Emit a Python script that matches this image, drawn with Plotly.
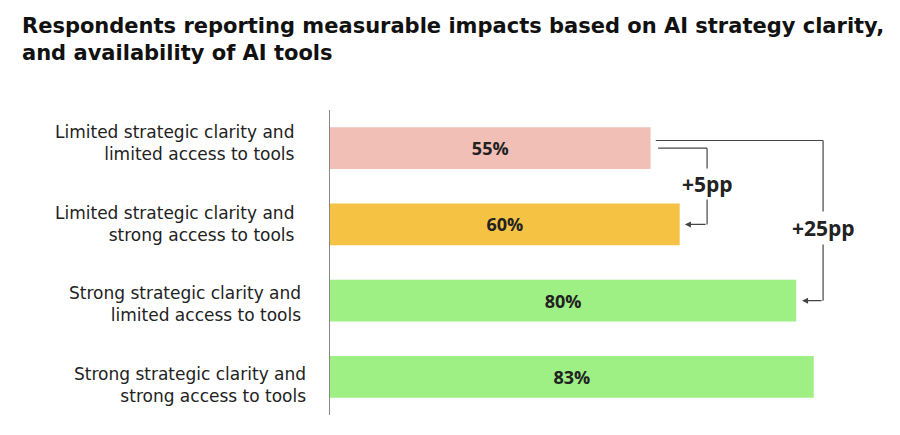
import plotly.graph_objects as go

categories = [
    "Limited strategic clarity and<br>limited access to tools",
    "Limited strategic clarity and<br>strong access to tools",
    "Strong strategic clarity and<br>limited access to tools",
    "Strong strategic clarity and<br>strong access to tools",
]
values = [55, 60, 80, 83]
bar_labels = ["55%", "60%", "80%", "83%"]
colors = ["#F1BFB6", "#F5C244", "#9EF084", "#9EF084"]
title = "Respondents reporting measurable impacts based on AI strategy clarity,<br>and availability of AI tools"
diff_labels = ["+5pp", "+25pp"]

L, R, T, B = 330, 0, 110, 20
W, H = 900, 435
PW, PH = W - L - R, H - T - B

fig = go.Figure()
fig.add_trace(go.Bar(
    y=list(range(len(categories))), x=values, orientation="h",
    marker=dict(color=colors, line=dict(width=0)),
    width=0.55,
    text=bar_labels, textposition="inside", insidetextanchor="middle",
    textfont=dict(family="Open Sans", size=18, color="#222222", weight="bold"),
    hoverinfo="skip",
))

# category labels (slightly irregular placement as in the original layout)
label_dy = [-0.07, 0.0, 0.05, 0.11]
label_right_px = [297, 297, 303, 308]
for i, cat in enumerate(categories):
    fig.add_annotation(x=(label_right_px[i] - L) / PW, y=i + label_dy[i],
                       xref="paper", yref="y", xanchor="right", yanchor="middle",
                       align="right", showarrow=False, text=cat,
                       font=dict(family="DejaVu Sans", size=17, color="#222222"))

line_col = "#444444"
# +5pp connector: bar 0 -> bar 1
s5 = values[0] + 1.3
v5 = values[1] + 4.7
t5 = values[1] + 0.9
# +25pp connector: bar 0 -> bar 2
s25 = values[0] + 0.9
v25 = values[2] + 4.6
t25 = values[2] + 1.0

shapes = [
    dict(type="line", xref="x", yref="y", x0=s5, x1=v5, y0=0, y1=0),
    dict(type="line", xref="x", yref="y", x0=v5, x1=v5, y0=0, y1=1),
    dict(type="line", xref="x", yref="y", x0=s25, x1=v25, y0=-0.1, y1=-0.1),
    dict(type="line", xref="x", yref="y", x0=v25, x1=v25, y0=-0.1, y1=2),
]
for s in shapes:
    s["line"] = dict(color=line_col, width=1.2)
    fig.add_shape(**s)

for (tip, vx, yy) in [(t5, v5, 1), (t25, v25, 2)]:
    fig.add_annotation(x=tip, y=yy, ax=vx, ay=yy, xref="x", yref="y",
                       axref="x", ayref="y", text="", showarrow=True,
                       arrowhead=2, arrowsize=1, arrowwidth=1.2,
                       arrowcolor=line_col, standoff=0, startstandoff=0)

fig.add_annotation(x=v5, y=0.47, xref="x", yref="y", text=diff_labels[0],
                   showarrow=False, bgcolor="white", borderpad=1,
                   font=dict(family="Open Sans", size=21, color="#222222", weight="bold"))
fig.add_annotation(x=v25, y=1.05, xref="x", yref="y", text=diff_labels[1],
                   showarrow=False, bgcolor="white", borderpad=2,
                   font=dict(family="Open Sans", size=21, color="#222222", weight="bold"))

# title as annotation (top-left)
fig.add_annotation(x=(20 - L) / PW, y=1 + (T - 12) / PH, xref="paper", yref="paper",
                   xanchor="left", yanchor="top", align="left", showarrow=False,
                   text=title,
                   font=dict(family="DejaVu Sans", size=21, color="#111111", weight="bold"))

fig.update_layout(
    width=W, height=H,
    margin=dict(l=L, r=R, t=T, b=B),
    paper_bgcolor="white", plot_bgcolor="white",
    showlegend=False,
    xaxis=dict(range=[0, 97.8], visible=False, fixedrange=True),
    yaxis=dict(range=[3.5, -0.5], showline=True, linecolor="#888888", linewidth=1,
               showgrid=False, ticks="", showticklabels=False, zeroline=False,
               fixedrange=True),
)

fig.write_html("out.html")
